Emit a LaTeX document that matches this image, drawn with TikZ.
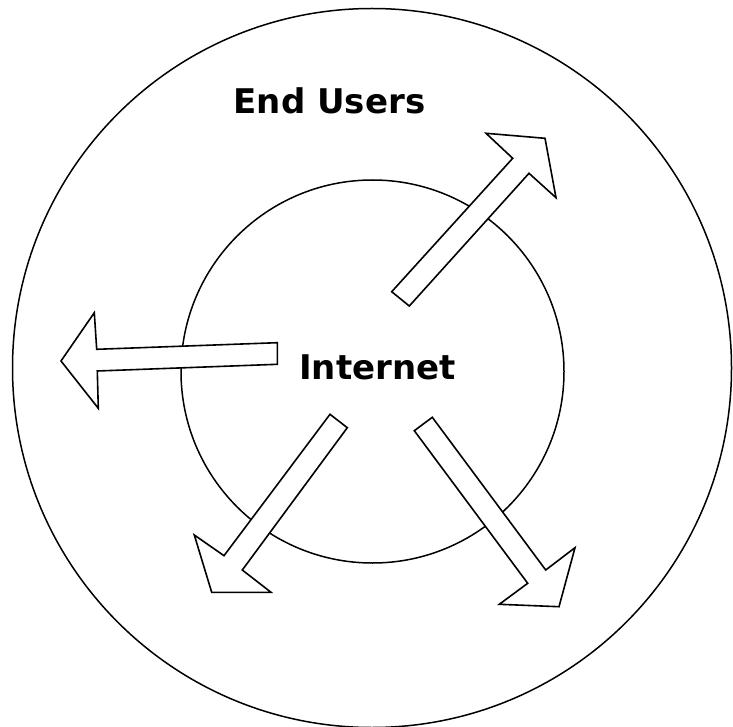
\documentclass[tikz,border=0pt]{standalone}
\usepackage{fontspec}
\setmainfont{DejaVu Sans}
\begin{document}
\begin{tikzpicture}[x=1pt,y=-1pt,
  ring/.style={circle,draw,line width=1.5pt,inner sep=0pt},
  fatarrow/.style={draw,fill=white,line width=1.6pt,line join=miter},
  label/.style={font=\fontsize{34}{40}\selectfont\bfseries,inner sep=0pt}]
\useasboundingbox (0,0) rectangle (733,727);
\fill[white] (0,0) rectangle (733,727);
\node[ring,minimum size=719pt] (users) at (372,368) {};
\node[ring,minimum size=383pt] (internet) at (372.5,371.5) {};
% north-east arrow
\draw[fatarrow] (391.7,291.7) -- (512.7,158.3) -- (486,133.3) -- (545,138.3) -- (556,197.7) -- (529,173.3) -- (409.3,306) -- cycle;
% west arrow
\draw[fatarrow] (277.3,342.7) -- (96.7,349.3) -- (94.3,312.7) -- (61,361) -- (98.3,408.3) -- (97.3,371) -- (277.3,364.3) -- cycle;
% south-west arrow
\draw[fatarrow] (330,414.3) -- (224,555.7) -- (194.3,535) -- (211.7,592.3) -- (271,592.3) -- (242.3,570) -- (347.3,427.7) -- cycle;
% south-east arrow
\draw[fatarrow] (432.3,417.3) -- (545.7,570) -- (575,547.7) -- (559,606.7) -- (499.3,604.3) -- (527.7,583.3) -- (414.3,430.7) -- cycle;
\node[label] (enduserstext) at (329.5,100.5) {End Users};
\node[label] (internettext) at (377.5,367) {Internet};
\end{tikzpicture}
\end{document}
